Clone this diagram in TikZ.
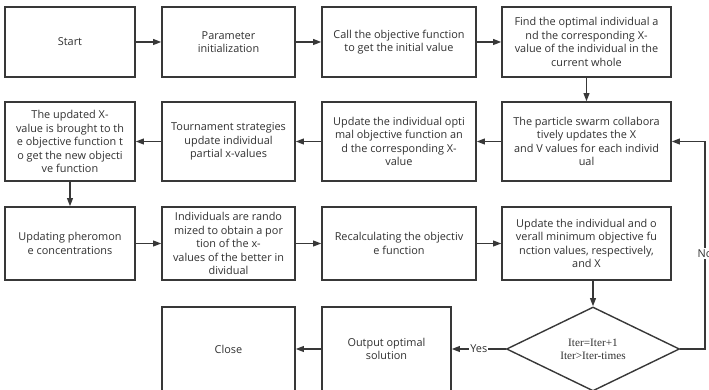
\documentclass[tikz,border=0pt]{standalone}
\usepackage{fontspec}
\setmainfont{Open Sans}
\newfontfamily\condfont{Liberation Serif}
\usepackage{tikz}
\usetikzlibrary{positioning, arrows.meta, shapes.geometric}

\definecolor{lineclr}{HTML}{383838}
\definecolor{txtclr}{HTML}{303030}

\begin{document}
\begin{tikzpicture}[
    box/.style={rectangle, draw=lineclr, line width=1.2pt, align=center, inner sep=2pt, text=txtclr, font=\fontsize{9.3}{11.5}\selectfont},
    decide/.style={diamond, draw=lineclr, line width=1.2pt, aspect=2.06, minimum width=5.19cm, minimum height=2.52cm, inner sep=0pt, align=center, text=txtclr, font=\condfont\fontsize{9.6}{11.2}\selectfont},
    arr/.style={-{Triangle[length=7pt, width=5pt]}, line width=1.2pt, lineclr},
    lbl/.style={fill=white, inner sep=1pt, text=txtclr, font=\fontsize{9.3}{10}\selectfont},
]
\useasboundingbox (0,0) rectangle (21.27,-11.7);

% first row
\node[box, minimum width=3.9cm, minimum height=2.1cm] (start) at (2.10, -1.26) {Start};
\node[box, minimum width=3.99cm, minimum height=2.1cm] (init) at (6.855, -1.26) {Parameter\\initialization};
\node[box, minimum width=4.62cm, minimum height=2.1cm] (call) at (11.97, -1.26) {Call the objective function\\to get the initial value};
\node[box, minimum width=5.07cm, minimum height=2.1cm] (find) at (17.595, -1.26) {Find the optimal individual a\\nd the corresponding X-\\value of the individual in the\\current whole};

% second row
\node[box, minimum width=5.07cm, minimum height=2.37cm] (swarm) at (17.595, -4.245) {The particle swarm collabora\\tively updates the X\\and V values for each individ\\ual};
\node[box, minimum width=4.62cm, minimum height=2.37cm] (updopt) at (11.97, -4.245) {Update the individual opti\\mal objective function an\\d the corresponding X-\\value};
\node[box, minimum width=3.99cm, minimum height=2.37cm] (tour) at (6.855, -4.245) {Tournament strategies\\update individual\\partial x-values};
\node[box, minimum width=3.9cm, minimum height=2.37cm] (newobj) at (2.10, -4.245) {The updated X-\\value is brought to th\\e objective function t\\o get the new objecti\\ve function};

% third row
\node[box, minimum width=3.9cm, minimum height=2.19cm] (phero) at (2.10, -7.305) {Updating pheromon\\e concentrations};
\node[box, minimum width=3.99cm, minimum height=2.19cm] (rand) at (6.855, -7.305) {Individuals are rando\\mized to obtain a por\\tion of the x-\\values of the better in\\dividual};
\node[box, minimum width=4.62cm, minimum height=2.19cm] (recalc) at (11.97, -7.305) {Recalculating the objectiv\\e function};
\node[box, minimum width=5.07cm, minimum height=2.19cm] (updmin) at (17.595, -7.305) {Update the individual and o\\verall minimum objective fu\\nction values, respectively,\\and X};

% last row
\node[decide] (dia) at (17.79, -10.47) {Iter=Iter+1\\Iter>Iter-times};
\node[box, minimum width=3.87cm, minimum height=2.52cm] (out) at (11.595, -10.47) {Output optimal\\solution};
\node[box, minimum width=3.99cm, minimum height=2.52cm] (close) at (6.855, -10.47) {Close};

\coordinate (loop) at (21.15, -10.47);

\draw[arr] (start) -- (init);
\draw[arr] (init) -- (call);
\draw[arr] (call) -- (find);
\draw[arr] (find) -- (swarm);
\draw[arr] (swarm) -- (updopt);
\draw[arr] (updopt) -- (tour);
\draw[arr] (tour) -- (newobj);
\draw[arr] (newobj) -- (phero);
\draw[arr] (phero) -- (rand);
\draw[arr] (rand) -- (recalc);
\draw[arr] (recalc) -- (updmin);
\draw[arr] (dia.north |- updmin.south) -- (dia.north);
\draw[arr] (dia.west) -- node[lbl] {Yes} (out.east);
\draw[arr] (out) -- (close);
\draw[arr] (dia.east) -- (loop) |- node[lbl, pos=0.23] {No} (swarm.east);

\end{tikzpicture}
\end{document}
